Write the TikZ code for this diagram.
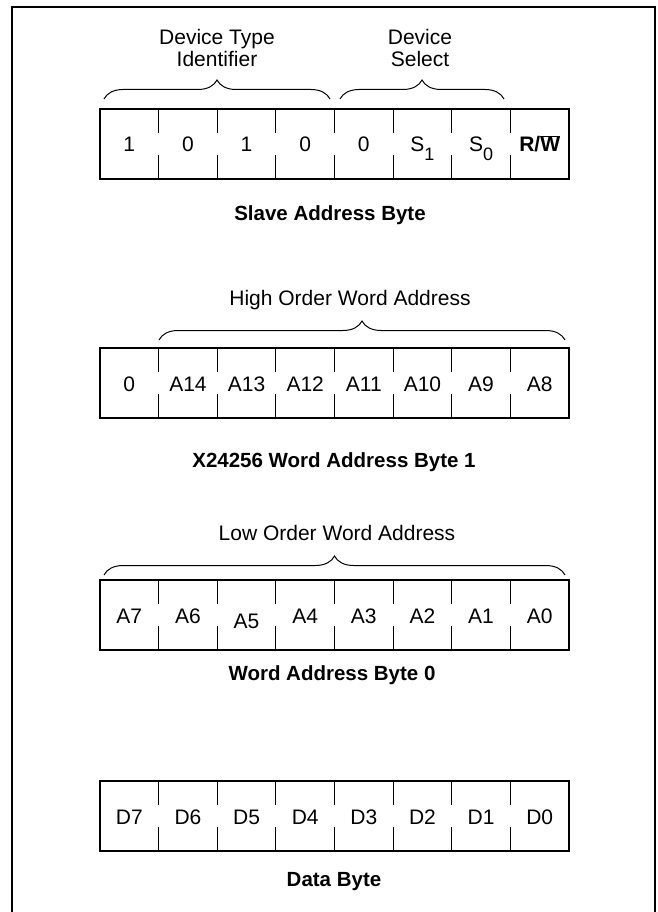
\documentclass[tikz,border=0pt]{standalone}
\usepackage{fontspec}
\setmainfont{Liberation Sans}
\usetikzlibrary{decorations.pathreplacing}

\tikzset{
  regbox/.style={line width=2.2pt},
  divider/.style={line width=1.1pt},
  wbrace/.style={decorate, decoration={brace, amplitude=19pt}, line width=1pt},
  bitlab/.style={inner sep=0pt, anchor=base, font=\fontsize{21}{22}\selectfont},
  fieldlab/.style={inner sep=0pt, align=center, font=\fontsize{21}{22}\selectfont},
  caption/.style={inner sep=0pt, font=\bfseries\fontsize{20.5}{22}\selectfont},
}

% one byte: top edge, node prefix, the eight bit labels
\newcommand{\bytereg}[3]{%
  \draw[regbox] (100,#1) rectangle (569,#1+70);
  \foreach \i in {1,...,7}
    \draw[divider] (100+58.625*\i,#1) -- ++(0,24) (100+58.625*\i,#1+70) -- ++(0,-24);
  \foreach \t [count=\i] in {#3}
    \node[bitlab] (#2\i) at (100+58.625*\i-29.3,#1+43) {\t};
}
\newcommand{\sub}[1]{\raisebox{-0.4em}{\fontsize{18}{18}\selectfont #1}}

\begin{document}
\begin{tikzpicture}[x=1pt,y=-1pt]
\useasboundingbox (0,0) rectangle (657,912);
\draw[line width=1.5pt] (12,912) -- (12,7) -- (655,7) -- (655,912);

%% slave address
\node[fieldlab] (dti) at (217,48) {Device Type\\Identifier};
\node[fieldlab] (dsel) at (420,48) {Device\\Select};
\draw[wbrace] (104,99) -- (330,99);
\draw[wbrace] (340,99) -- (504,99);
\bytereg{109}{sa}{1,0,1,0,0,{S\sub{1}},{S\sub{0}},{\bfseries R/$\overline{\mbox{\bfseries W}}$}}
\node[caption] (sacap) at (330,215) {Slave Address Byte};

%% word address byte 1
\node[fieldlab] (howa) at (350,300) {High Order Word Address};
\draw[wbrace] (159,340) -- (565,340);
\bytereg{348}{wa}{0,A14,A13,A12,A11,A10,A9,A8}
\node[caption] (wacap) at (334,462) {X24256 Word Address Byte 1};

%% word address byte 0
\node[fieldlab] (lowa) at (337,533) {Low Order Word Address};
\draw[wbrace] (104,575) -- (565,575);
\bytereg{580}{wb}{A7,A6,\raisebox{-5pt}{A5},A4,A3,A2,A1,A0}
\node[caption] (wbcap) at (332,675) {Word Address Byte 0};

%% data
\bytereg{781}{db}{D7,D6,D5,D4,D3,D2,D1,D0}
\node[caption] (dbcap) at (334,882) {Data Byte};
\end{tikzpicture}
\end{document}
